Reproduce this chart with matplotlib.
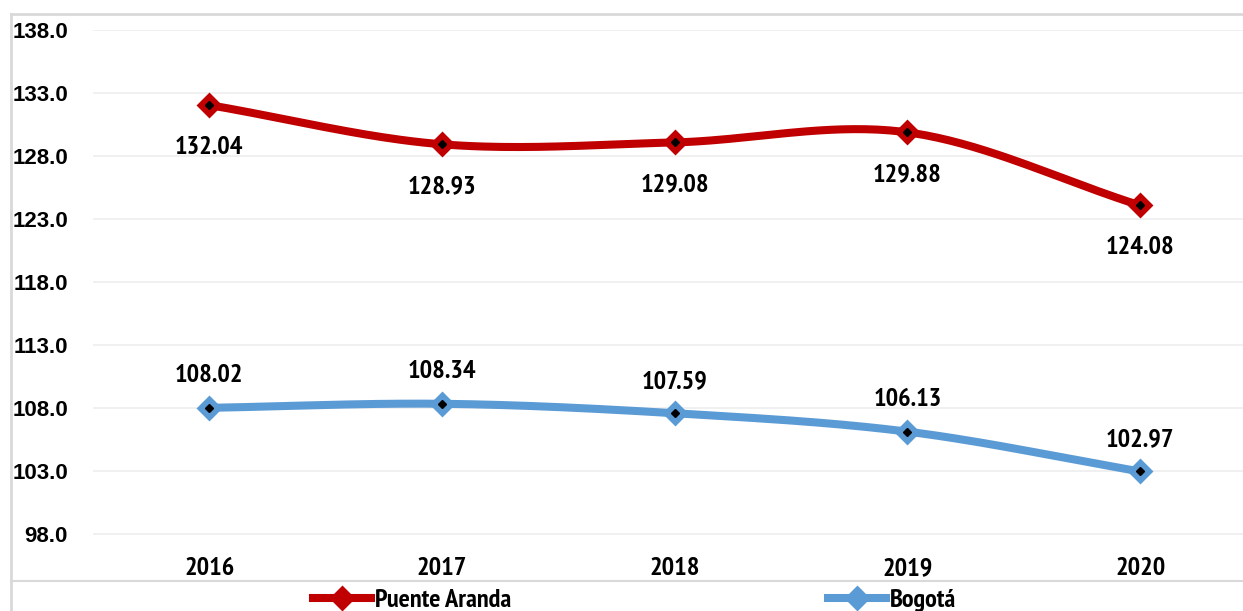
import numpy as np
import matplotlib.pyplot as plt
from matplotlib.lines import Line2D

years = ["2016", "2017", "2018", "2019", "2020"]
puente_aranda = [132.04, 128.93, 129.08, 129.88, 124.08]
bogota = [108.02, 108.34, 107.59, 106.13, 102.97]
yticks = [98.0, 103.0, 108.0, 113.0, 118.0, 123.0, 128.0, 133.0, 138.0]

red = "#c00000"
blue = "#5b9bd5"
narrow = ["PT Sans Narrow", "Liberation Sans", "DejaVu Sans"]
wide = ["Liberation Sans", "DejaVu Sans"]

W, H = 1243, 611


def smooth(x, y, n=40):
    # catmull-rom through the points (like excel smoothed lines)
    x = np.asarray(x, float)
    y = np.asarray(y, float)
    px = np.concatenate([[2 * x[0] - x[1]], x, [2 * x[-1] - x[-2]]])
    py = np.concatenate([[2 * y[0] - y[1]], y, [2 * y[-1] - y[-2]]])
    xs, ys = [], []
    t = np.linspace(0, 1, n)
    for i in range(1, len(px) - 2):
        for p, out in ((px, xs), (py, ys)):
            p0, p1, p2, p3 = p[i - 1], p[i], p[i + 1], p[i + 2]
            out.extend(0.5 * ((2 * p1) + (-p0 + p2) * t
                              + (2 * p0 - 5 * p1 + 4 * p2 - p3) * t ** 2
                              + (-p0 + 3 * p1 - 3 * p2 + p3) * t ** 3))
    return np.array(xs), np.array(ys)


fig = plt.figure(figsize=(W / 100, H / 100), dpi=100)
# axes: top at y=30 (138), bottom at y=553 (96.5), left x=93
ax = fig.add_axes([93 / W, 1 - 553 / H, 1 - 93 / W, (553 - 30) / H])
ax.set_xlim(-0.5, (W - 208) / 233)
ax.set_ylim(96.5, 138.0)

x = np.arange(len(years))
# label offsets in pixels (red below, blue above)
for vals, col, off in ((puente_aranda, red, -42), (bogota, blue, 32)):
    sx, sy = smooth(x, vals)
    ax.plot(sx, sy, color=col, lw=5.8, solid_capstyle="round", zorder=3)
    ax.plot(x, vals, ls="none", marker="D", ms=11, mfc=col, mec=col, mew=2, zorder=4)
    ax.plot(x, vals, ls="none", marker="D", ms=4, color="black", zorder=5)
    for xi, v in zip(x, vals):
        ax.annotate(f"{v:.2f}", (xi, v), xytext=(0, off * 0.72), textcoords="offset points",
                    ha="center", va="center", fontsize=19, fontweight="bold",
                    family=narrow, color="black")

ax.set_yticks(yticks)
ax.set_yticklabels([f"{t:.1f}" for t in yticks], fontsize=16, fontweight="bold", family=wide)
ax.set_xticks(x)
ax.set_xticklabels(years, fontsize=19, fontweight="bold", family=narrow)
ax.tick_params(axis="y", length=0, pad=18)
ax.tick_params(axis="x", length=0, pad=3)
ax.grid(axis="y", color="#efefef", lw=1.3)
ax.set_axisbelow(True)
for s in ax.spines.values():
    s.set_visible(False)

# outer chart border
gray = "#d9d9d9"
fig.add_artist(Line2D([11 / W, 1], [1 - 14 / H] * 2, color=gray, lw=2))
fig.add_artist(Line2D([11 / W] * 2, [0, 1 - 14 / H], color=gray, lw=2))
fig.add_artist(Line2D([11 / W, 1], [1 - 581 / H] * 2, color=gray, lw=1.5))

handles = [
    Line2D([], [], color=red, lw=5.8, marker="D", ms=11, mfc=red, mec=red, mew=2),
    Line2D([], [], color=blue, lw=5.8, marker="D", ms=11, mfc=blue, mec=blue, mew=2),
]
leg = fig.legend(handles, ["Puente Aranda", "Bogotá"], loc="center left",
                 bbox_to_anchor=(313 / W, 1 - 600 / H), ncol=2, frameon=False,
                 borderpad=0, borderaxespad=0, handlelength=2.2, handletextpad=0.15,
                 columnspacing=12.0,
                 prop={"family": narrow, "weight": "bold", "size": 19})
# black dots in the legend markers
for xx in (341, 856):
    fig.add_artist(Line2D([xx / W], [1 - 600 / H], ls="none", marker="D", ms=4, color="black"))

fig.savefig("out.png", dpi=100)
